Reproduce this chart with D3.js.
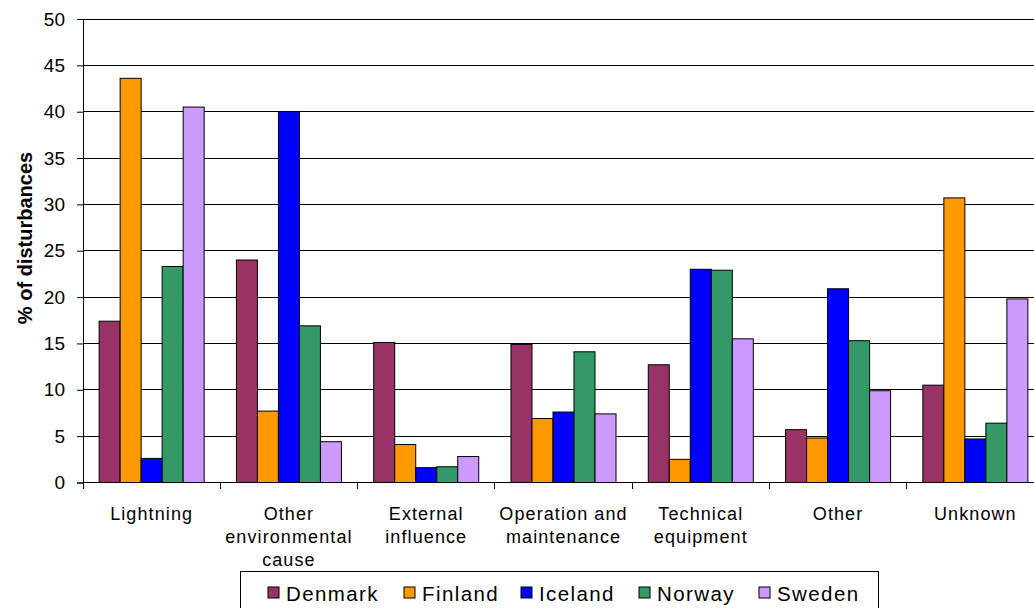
<!DOCTYPE html>
<html>
<head>
<meta charset="utf-8">
<script src="https://cdn.jsdelivr.net/npm/d3@7"></script>
<style>
  body { margin: 0; background: #fff; }
  svg { display: block; font-family: "Liberation Sans", Arial, sans-serif; }
</style>
</head>
<body>
<script>
var categories = [["Lightning"], ["Other", "environmental", "cause"], ["External", "influence"],
    ["Operation and", "maintenance"], ["Technical", "equipment"], ["Other"], ["Unknown"]];
var countries = ["Denmark", "Finland", "Iceland", "Norway", "Sweden"];
var colors = ["#993366", "#FF9900", "#0000FF", "#339966", "#CC99FF"];
var denmark = [17.4, 24.0, 15.1, 14.9, 12.7, 5.7, 10.5];
var finland = [43.6, 7.7, 4.1, 6.9, 2.5, 4.8, 30.7];
var iceland = [2.6, 40.0, 1.6, 7.6, 23.0, 20.9, 4.7];
var norway = [23.3, 16.9, 1.7, 14.1, 22.9, 15.3, 6.4];
var sweden = [40.5, 4.4, 2.8, 7.4, 15.5, 9.9, 19.8];
var yTicks = [0, 5, 10, 15, 20, 25, 30, 35, 40, 45, 50];

var series = [denmark, finland, iceland, norway, sweden];

var width = 1034, height = 608;
var margin = {left: 83, top: 19};
var plotW = 961, plotH = 463.5;

var svg = d3.select('body').append('svg').attr('width', width).attr('height', height);
var g = svg.append('g').attr('transform', 'translate(' + margin.left + ',' + margin.top + ')');

var x0 = d3.scaleBand().domain(d3.range(categories.length)).range([0, plotW]).paddingInner(0.235).paddingOuter(0.1175);
var step = plotW / categories.length;
var x1 = d3.scaleBand().domain(d3.range(countries.length)).range([0, x0.bandwidth()]);
var y = d3.scaleLinear().domain([0, 50]).range([plotH, 0]);

// gridlines
g.append('g').selectAll('line').data(yTicks.slice(1)).enter().append('line')
    .attr('x1', 0).attr('x2', plotW)
    .attr('y1', d => y(d)).attr('y2', d => y(d))
    .attr('stroke', '#000').attr('stroke-width', 1).attr('shape-rendering', 'crispEdges');

// bars
var groups = g.append('g').selectAll('g').data(categories).enter().append('g')
    .attr('transform', (d, i) => 'translate(' + x0(i) + ',0)');
groups.selectAll('rect').data((d, i) => series.map((s, k) => ({k: k, v: s[i]}))).enter().append('rect')
    .attr('x', d => x1(d.k))
    .attr('y', d => y(d.v))
    .attr('width', x1.bandwidth())
    .attr('height', d => plotH - y(d.v))
    .attr('fill', d => colors[d.k])
    .attr('stroke', '#000').attr('stroke-width', 1);

// y axis
var yAxis = g.append('g').call(d3.axisLeft(y).tickValues(yTicks).tickSize(6).tickPadding(12));
yAxis.select('.domain').attr('stroke', '#000');
yAxis.selectAll('text').attr('font-size', 19).attr('fill', '#000').attr('font-family', '"Liberation Sans", Arial, sans-serif');

// x axis
var xAxis = g.append('g').attr('transform', 'translate(0,' + plotH + ')');
xAxis.append('line').attr('x1', 0).attr('x2', plotW).attr('stroke', '#000').attr('shape-rendering', 'crispEdges');
xAxis.selectAll('.tk').data(d3.range(categories.length + 1)).enter().append('line')
    .attr('x1', d => d * step).attr('x2', d => d * step)
    .attr('y1', 0).attr('y2', 6).attr('stroke', '#000').attr('shape-rendering', 'crispEdges');
xAxis.selectAll('.lbl').data(categories).enter().append('text')
    .attr('text-anchor', 'middle')
    .attr('font-size', 18).attr('letter-spacing', 1.1)
    .attr('transform', (d, i) => 'translate(' + (i * step + step / 2) + ',37.5)')
    .selectAll('tspan').data(d => d).enter().append('tspan')
    .attr('x', 0).attr('y', (d, j) => j * 22.8)
    .text(d => d);

// y title
svg.append('text')
    .attr('transform', 'translate(32,238) rotate(-90)')
    .attr('text-anchor', 'middle')
    .attr('font-size', 20).attr('font-weight', 'bold')
    .text('% of disturbances');

// legend
var legend = svg.append('g');
legend.append('rect').attr('x', 240.5).attr('y', 571.5).attr('width', 638).attr('height', 50)
    .attr('fill', '#fff').attr('stroke', '#000');
var legX = [268, 404, 521, 639, 759];
var items = legend.selectAll('.item').data(countries).enter().append('g')
    .attr('transform', (d, i) => 'translate(' + legX[i] + ',587)');
items.append('rect').attr('width', 11).attr('height', 11)
    .attr('fill', (d, i) => colors[i]).attr('stroke', '#000');
items.append('text').attr('x', 18).attr('y', 14)
    .attr('font-size', 20.5).attr('letter-spacing', 1.4)
    .text(d => d);
</script>
</body>
</html>
